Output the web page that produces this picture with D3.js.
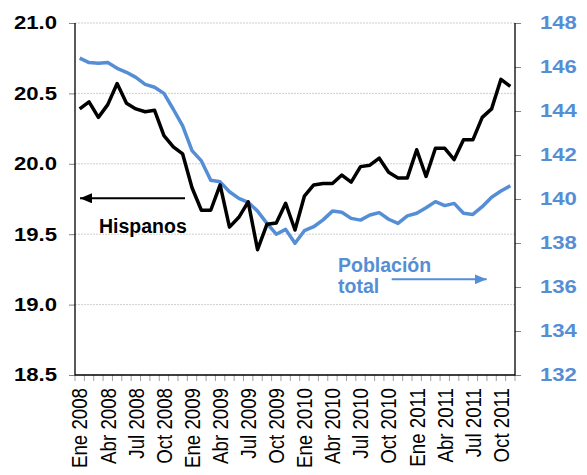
<!DOCTYPE html>
<html>
<head>
<meta charset="utf-8">
<script src="https://cdn.jsdelivr.net/npm/d3@7"></script>
<style>
  html, body { margin: 0; padding: 0; background: #fff; }
  svg { display: block; }
  text { font-family: "Liberation Sans", Arial, sans-serif; }
</style>
</head>
<body>
<svg id="chart" width="587" height="475"></svg>
<script>
// ---- data ----
const monthNames = ["Ene","Feb","Mar","Abr","May","Jun","Jul","Ago","Sep","Oct","Nov","Dic"];
const years = [2008, 2009, 2010, 2011];
const categories = years.flatMap(y => monthNames.map(m => m + " " + y)).slice(0, 47);
const tickLabels = ["Ene 2008","Abr 2008","Jul 2008","Oct 2008","Ene 2009","Abr 2009","Jul 2009","Oct 2009",
                    "Ene 2010","Abr 2010","Jul 2010","Oct 2010","Ene 2011","Abr 2011","Jul 2011","Oct 2011"];
const hispanos = [20.39, 20.44, 20.33, 20.42, 20.57, 20.43, 20.39, 20.37, 20.38, 20.20, 20.12, 20.07,
                  19.83, 19.67, 19.67, 19.85, 19.55, 19.62, 19.73, 19.39, 19.57, 19.58, 19.72, 19.53,
                  19.77, 19.85, 19.86, 19.86, 19.92, 19.87, 19.98, 19.99, 20.04, 19.94, 19.90, 19.90,
                  20.10, 19.91, 20.11, 20.11, 20.03, 20.17, 20.17, 20.33, 20.39, 20.60, 20.55];
const poblacion = [146.40, 146.20, 146.17, 146.20, 145.94, 145.76, 145.53, 145.21, 145.08, 144.80, 144.08, 143.32,
                   142.20, 141.73, 140.85, 140.78, 140.33, 140.03, 139.85, 139.45, 138.89, 138.40, 138.62, 137.99,
                   138.56, 138.74, 139.05, 139.45, 139.40, 139.12, 139.04, 139.27, 139.38, 139.08, 138.89, 139.23,
                   139.35, 139.60, 139.88, 139.70, 139.80, 139.35, 139.30, 139.65, 140.08, 140.36, 140.60];
const leftTicks = [18.5, 19.0, 19.5, 20.0, 20.5, 21.0];
const rightTicks = [132, 134, 136, 138, 140, 142, 144, 146, 148];

// ---- layout ----
const L = 75, R = 515, T = 23, B = 375;
const blue = "#558ED5";
const sx = 1.19; // horizontal text stretch seen in reference

const svg = d3.select("#chart");
svg.append("rect").attr("width", 587).attr("height", 475).attr("fill", "#fff");

const x = d3.scaleBand().domain(categories).range([L, R]).padding(0);
const yL = d3.scaleLinear().domain([18.5, 21.0]).range([B, T]);
const yR = d3.scaleLinear().domain([132, 148]).range([B, T]);
const cx = d => x(d) + x.bandwidth() / 2;

// gridlines
svg.append("g").selectAll("line").data(leftTicks.filter(v => v > 18.5)).join("line")
  .attr("x1", L).attr("x2", R).attr("y1", d => yL(d)).attr("y2", d => yL(d))
  .attr("stroke", "#cfcfcf").attr("stroke-width", 1).attr("stroke-dasharray", "2,1");

// left axis
const axL = svg.append("g").attr("transform", `translate(${L},0)`)
  .call(d3.axisLeft(yL).tickValues(leftTicks).tickSize(6).tickFormat(d3.format(".1f")));
axL.select(".domain").remove();
axL.selectAll(".tick line").attr("stroke", "#808080");
axL.selectAll(".tick text")
  .attr("x", -18 / sx).attr("transform", `scale(${sx},1)`)
  .attr("font-family", "Liberation Sans, Arial, sans-serif")
  .attr("font-size", 18.6).attr("font-weight", "bold").attr("fill", "#000");

// right axis
const axR = svg.append("g").attr("transform", `translate(${R},0)`)
  .call(d3.axisRight(yR).tickValues(rightTicks).tickSize(6).tickFormat(d3.format("d")));
axR.select(".domain").remove();
axR.selectAll(".tick line").attr("stroke", "#808080");
axR.selectAll(".tick text")
  .attr("x", 25 / sx).attr("transform", `scale(${sx},1)`)
  .attr("font-family", "Liberation Sans, Arial, sans-serif")
  .attr("font-size", 18.6).attr("font-weight", "bold").attr("fill", blue);

// bottom minor ticks at band edges
const edges = categories.map(c => x(c)).concat([R]);
svg.append("g").selectAll("line").data(edges).join("line")
  .attr("x1", d => d).attr("x2", d => d).attr("y1", B).attr("y2", B + 6)
  .attr("stroke", "#a0a0a0").attr("stroke-width", 1);

// x labels
svg.append("g").selectAll("text").data(tickLabels).join("text")
  .attr("transform", d => `translate(${cx(d)},388) scale(${sx},1) rotate(-90)`)
  .attr("text-anchor", "end").attr("dy", "0.35em")
  .attr("font-size", 18.7).attr("fill", "#000")
  .text(d => d);

// plot box (left, right, bottom)
svg.append("path")
  .attr("d", `M${L},${T}V${B}H${R}V${T}`)
  .attr("fill", "none").attr("stroke", "#000").attr("stroke-width", 1.3);

// lines
const lineL = d3.line().x((d, i) => cx(categories[i])).y(d => yL(d));
const lineR = d3.line().x((d, i) => cx(categories[i])).y(d => yR(d));
svg.append("path").datum(poblacion).attr("d", lineR)
  .attr("fill", "none").attr("stroke", blue).attr("stroke-width", 3.5).attr("stroke-linejoin", "round");
svg.append("path").datum(hispanos).attr("d", lineL)
  .attr("fill", "none").attr("stroke", "#000").attr("stroke-width", 3.5).attr("stroke-linejoin", "round");

// annotations
const defs = svg.append("defs");
function marker(id, color) {
  defs.append("marker").attr("id", id).attr("viewBox", "0 0 12 10")
    .attr("refX", 12).attr("refY", 5).attr("markerWidth", 12).attr("markerHeight", 10)
    .attr("markerUnits", "userSpaceOnUse").attr("orient", "auto")
    .append("path").attr("d", "M0,0L12,5L0,10Z").attr("fill", color);
}
marker("arrK", "#000");
marker("arrB", blue);

svg.append("line").attr("x1", 185).attr("y1", 198.3).attr("x2", 80).attr("y2", 198.3)
  .attr("stroke", "#000").attr("stroke-width", 2).attr("marker-end", "url(#arrK)");
svg.append("text").attr("x", 99).attr("y", 233).attr("font-size", 19.5).attr("font-weight", "bold")
  .attr("fill", "#000").text("Hispanos");

svg.append("text").attr("x", 338).attr("y", 272.3).attr("font-size", 19.5).attr("font-weight", "bold")
  .attr("fill", blue).text("Población");
svg.append("text").attr("x", 338).attr("y", 293.3).attr("font-size", 19.5).attr("font-weight", "bold")
  .attr("fill", blue).text("total");
svg.append("line").attr("x1", 391.7).attr("y1", 279.3).attr("x2", 486.7).attr("y2", 279.3)
  .attr("stroke", blue).attr("stroke-width", 2).attr("marker-end", "url(#arrB)");
</script>
</body>
</html>
